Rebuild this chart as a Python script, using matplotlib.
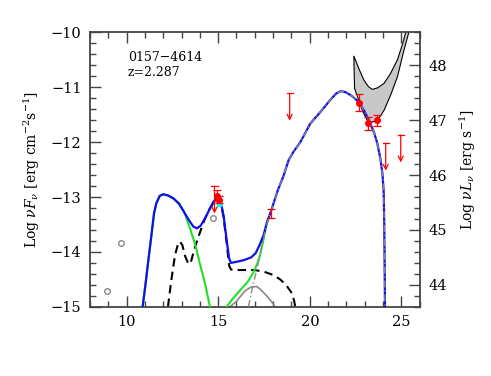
import numpy as np
import matplotlib
matplotlib.use('Agg')
import matplotlib.pyplot as plt
from matplotlib.ticker import MultipleLocator

plt.rcParams['font.family'] = ['DejaVu Serif']
plt.rcParams['mathtext.fontset'] = 'dejavuserif'

# source info
name = '0157\u22124614'
redshift = 'z=2.287'
lum_offset = 58.6   # log nuL - log nuF

# total model (blue)
tot_x = [10.88, 11.05, 11.17, 11.35, 11.5, 11.63, 11.81, 12.0, 12.25, 12.55, 12.85, 13.1, 13.4,
         13.65, 13.85, 14.05, 14.3, 14.55, 14.75, 14.95, 15.12, 15.3, 15.46, 15.6, 15.7, 16.0,
         16.4, 16.8, 17.05, 17.25, 17.47, 17.65, 17.93, 18.25, 18.56, 18.84, 19.1, 19.48, 20.03,
         20.58, 21.12, 21.45, 21.7, 21.95, 22.3, 22.67, 22.95, 23.22, 23.5, 23.68, 23.85, 23.96,
         24.03, 24.06, 24.08, 24.1]
tot_y = [-15.0, -14.55, -14.21, -13.72, -13.3, -13.11, -12.98, -12.95, -12.97, -13.02, -13.12,
         -13.25, -13.42, -13.54, -13.57, -13.52, -13.38, -13.21, -13.08, -13.02, -13.06, -13.35,
         -13.78, -14.12, -14.2, -14.18, -14.15, -14.1, -14.02, -13.88, -13.70, -13.48, -13.21,
         -12.88, -12.62, -12.33, -12.18, -12.0, -11.66, -11.45, -11.23, -11.11, -11.07, -11.09,
         -11.16, -11.27, -11.42, -11.6, -11.82, -12.02, -12.3, -12.57, -12.9, -13.5, -14.2, -15.0]

# jet synchrotron + SSC (green)
jet_x = [10.88, 11.05, 11.17, 11.35, 11.5, 11.63, 11.81, 12.0, 12.25, 12.55, 12.9, 13.2, 13.45,
         13.75, 14.0, 14.3, 14.55, 14.7, 15.3, 15.46, 15.8, 16.19, 16.6, 16.92, 17.15, 17.29,
         17.47, 17.6, 17.7]
jet_y = [-15.0, -14.55, -14.21, -13.72, -13.3, -13.11, -12.98, -12.95, -12.97, -13.03, -13.12,
         -13.32, -13.56, -13.87, -14.21, -14.6, -15.0, -15.3, -15.3, -15.0, -14.85, -14.7, -14.55,
         -14.38, -14.2, -14.05, -13.78, -13.55, -13.4]

# disk + torus + corona (black dashed)
disk_x = [12.26, 12.45, 12.65, 12.8, 12.92, 13.05, 13.2, 13.38, 13.5, 13.7, 13.95, 14.18, 14.4,
          14.6, 14.8, 15.0, 15.15, 15.3, 15.45, 15.6, 15.7, 16.0, 16.5, 17.0, 17.5, 18.0, 18.38,
          18.7, 19.02, 19.15, 19.2]
disk_y = [-15.0, -14.5, -14.05, -13.87, -13.81, -13.88, -14.08, -14.22, -14.2, -13.95, -13.7,
          -13.48, -13.3, -13.18, -13.08, -13.03, -13.1, -13.38, -13.8, -14.25, -14.32, -14.33,
          -14.33, -14.33, -14.36, -14.42, -14.5, -14.6, -14.75, -14.9, -15.0]

# SSC (grey solid)
ssc_x = [15.64, 16.0, 16.19, 16.5, 16.8, 17.1, 17.3, 17.65, 17.9, 18.1]
ssc_y = [-15.0, -14.9, -14.82, -14.7, -14.64, -14.63, -14.68, -14.8, -14.9, -15.0]

# external Compton (grey dash-dot)
ec_x = [16.65, 16.9, 17.1, 17.38, 17.6, 17.93, 18.25, 18.56, 18.84, 19.1, 19.48, 20.03, 20.58,
        21.12, 21.45, 21.7, 21.95, 22.3, 22.67, 22.95, 23.22, 23.5, 23.68, 23.85, 23.96, 24.03,
        24.06, 24.08, 24.1]
ec_y = [-15.0, -14.6, -14.33, -13.91, -13.55, -13.21, -12.88, -12.62, -12.33, -12.18, -12.0,
        -11.66, -11.45, -11.23, -11.11, -11.07, -11.09, -11.16, -11.27, -11.42, -11.6, -11.82,
        -12.02, -12.3, -12.57, -12.9, -13.5, -14.2, -15.0]

# Fermi butterfly
bow_up_x = [22.4, 22.7, 22.95, 23.2, 23.41, 23.7, 24.05, 24.4, 24.78, 25.05, 25.23, 25.35]
bow_up_y = [-10.43, -10.68, -10.87, -10.99, -11.04, -11.01, -10.93, -10.75, -10.5, -10.22, -10.0, -9.85]
bow_lo_x = [22.44, 22.7, 22.9, 23.13, 23.32, 23.55, 23.8, 24.05, 24.4, 24.78, 25.14, 25.4, 25.5]
bow_lo_y = [-11.02, -11.27, -11.45, -11.6, -11.64, -11.62, -11.55, -11.42, -11.15, -10.81, -10.32, -10.0, -9.85]

# detections
det_x = [14.95, 15.02, 17.87, 22.67, 23.19, 23.68]
det_y = [-12.98, -13.05, -13.3, -11.28, -11.66, -11.6]
det_err = [0.1, 0.06, 0.08, 0.16, 0.12, 0.1]
det_marker = [True, True, False, True, True, True]

# upper limits
ul_x = [14.8, 18.9, 24.14, 24.96]
ul_y = [-12.8, -11.11, -12.02, -11.87]

# archival (grey open circles)
arch_x = [8.94, 9.71, 14.7]
arch_y = [-14.72, -13.83, -13.39]

# cyan point
cyan_x = [15.06]
cyan_y = [-13.13]

fig = plt.figure(figsize=(4.91, 3.76), dpi=100)
ax = fig.add_axes([0.183, 0.184, 0.672, 0.730])

ax.fill(bow_up_x + bow_lo_x[::-1], bow_up_y + bow_lo_y[::-1], facecolor='#c8c8c8',
        edgecolor='black', lw=0.8, zorder=1)

ax.plot(disk_x, disk_y, color='black', lw=1.5, ls=(0, (4, 2.5)), zorder=2)
ax.plot(ssc_x, ssc_y, color='#888888', lw=1.2, zorder=2)
ax.plot(jet_x, jet_y, color='#22e022', lw=1.5, zorder=3)
ax.plot(tot_x, tot_y, color='#1010e8', lw=1.6, zorder=4)
ax.plot(ec_x, ec_y, color='#888888', lw=1.0, ls=(0, (5, 2, 1, 2)), zorder=5)

ax.plot(arch_x, arch_y, 'o', mfc='none', mec='#888888', ms=4, mew=1.0, zorder=6)
ax.plot(cyan_x, cyan_y, 's', color='cyan', ms=3, zorder=6)

for x, y, e, m in zip(det_x, det_y, det_err, det_marker):
    ax.errorbar(x, y, yerr=e, fmt='o' if m else 'none', color='red', ms=4, lw=0.9,
                capsize=3, capthick=0.9, zorder=7)

for x, y in zip(ul_x, ul_y):
    ax.plot([x - 0.17, x + 0.17], [y, y], color='red', lw=0.9, zorder=7)
    ax.annotate('', xy=(x, y - 0.5), xytext=(x, y),
                arrowprops=dict(arrowstyle='->', color='red', lw=0.9,
                                shrinkA=0, shrinkB=0, mutation_scale=9), zorder=7)

ax.set_xlim(8, 26)
ax.set_ylim(-15, -10)
ax.xaxis.set_major_locator(MultipleLocator(5))
ax.xaxis.set_minor_locator(MultipleLocator(1))
ax.yaxis.set_major_locator(MultipleLocator(1))
ax.yaxis.set_minor_locator(MultipleLocator(0.2))
ax.tick_params(which='both', direction='in', top=True, right=False, labelsize=10.5,
               color='#444444', width=1.0)
ax.tick_params(which='major', length=8, pad=6)
ax.tick_params(which='minor', length=4.5)
for s in ax.spines.values():
    s.set_color('#444444')
    s.set_linewidth(1.3)
ax.set_yticks([-15, -14, -13, -12, -11, -10])
ax.set_yticklabels(['\u221215', '\u221214', '\u221213', '\u221212', '\u221211', '\u221210'])

ax2 = ax.twinx()
ax2.set_ylim(-15 + lum_offset, -10 + lum_offset)
ax2.yaxis.set_major_locator(MultipleLocator(1))
ax2.yaxis.set_minor_locator(MultipleLocator(0.2))
ax2.tick_params(which='both', direction='in', labelsize=10.5, color='#444444', width=1.0)
ax2.tick_params(which='major', length=8, pad=6)
ax2.tick_params(which='minor', length=4.5)
for s in ax2.spines.values():
    s.set_visible(False)

ax.set_ylabel(r'Log $\nu F_\nu$ [erg cm$^{-2}$s$^{-1}$]', fontsize=10, labelpad=6)
ax2.set_ylabel(r'Log $\nu L_\nu$ [erg s$^{-1}$]', fontsize=10, labelpad=8)

ax.text(0.115, 0.91, name, transform=ax.transAxes, fontsize=9, va='center')
ax.text(0.115, 0.853, redshift, transform=ax.transAxes, fontsize=9, va='center')

fig.savefig('out.png', dpi=100)
